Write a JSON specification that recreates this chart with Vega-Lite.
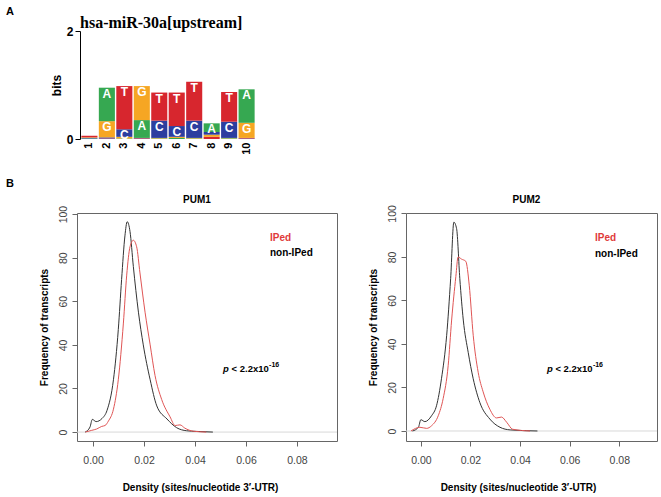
{
  "$schema": "https://vega.github.io/schema/vega-lite/v6.json",
  "background": "white",
  "padding": {"left": 6, "top": 6, "right": 4, "bottom": 4},
  "config": {
    "font": "Liberation Sans",
    "view": {"stroke": "#666666", "strokeWidth": 1},
    "axis": {"grid": false}
  },
  "datasets": {
    "logo": [
      {"pos": "1", "base": "A", "bits": 0.01, "rank": 1},
      {"pos": "1", "base": "C", "bits": 0.01, "rank": 2},
      {"pos": "1", "base": "G", "bits": 0.01, "rank": 3},
      {"pos": "1", "base": "T", "bits": 0.03, "rank": 4},
      {"pos": "2", "base": "T", "bits": 0.01, "rank": 1},
      {"pos": "2", "base": "C", "bits": 0.02, "rank": 2},
      {"pos": "2", "base": "G", "bits": 0.3, "rank": 3},
      {"pos": "2", "base": "A", "bits": 0.62, "rank": 4},
      {"pos": "3", "base": "A", "bits": 0.01, "rank": 1},
      {"pos": "3", "base": "G", "bits": 0.03, "rank": 2},
      {"pos": "3", "base": "C", "bits": 0.14, "rank": 3},
      {"pos": "3", "base": "T", "bits": 0.8, "rank": 4},
      {"pos": "4", "base": "C", "bits": 0.01, "rank": 1},
      {"pos": "4", "base": "T", "bits": 0.01, "rank": 2},
      {"pos": "4", "base": "A", "bits": 0.33, "rank": 3},
      {"pos": "4", "base": "G", "bits": 0.63, "rank": 4},
      {"pos": "5", "base": "A", "bits": 0.01, "rank": 1},
      {"pos": "5", "base": "G", "bits": 0.01, "rank": 2},
      {"pos": "5", "base": "C", "bits": 0.32, "rank": 3},
      {"pos": "5", "base": "T", "bits": 0.52, "rank": 4},
      {"pos": "6", "base": "A", "bits": 0.02, "rank": 1},
      {"pos": "6", "base": "G", "bits": 0.02, "rank": 2},
      {"pos": "6", "base": "C", "bits": 0.2, "rank": 3},
      {"pos": "6", "base": "T", "bits": 0.62, "rank": 4},
      {"pos": "7", "base": "A", "bits": 0.01, "rank": 1},
      {"pos": "7", "base": "G", "bits": 0.01, "rank": 2},
      {"pos": "7", "base": "C", "bits": 0.32, "rank": 3},
      {"pos": "7", "base": "T", "bits": 0.72, "rank": 4},
      {"pos": "8", "base": "T", "bits": 0.04, "rank": 1},
      {"pos": "8", "base": "G", "bits": 0.04, "rank": 2},
      {"pos": "8", "base": "C", "bits": 0.05, "rank": 3},
      {"pos": "8", "base": "A", "bits": 0.16, "rank": 4},
      {"pos": "9", "base": "G", "bits": 0.01, "rank": 1},
      {"pos": "9", "base": "A", "bits": 0.01, "rank": 2},
      {"pos": "9", "base": "C", "bits": 0.3, "rank": 3},
      {"pos": "9", "base": "T", "bits": 0.55, "rank": 4},
      {"pos": "10", "base": "C", "bits": 0.01, "rank": 1},
      {"pos": "10", "base": "T", "bits": 0.01, "rank": 2},
      {"pos": "10", "base": "G", "bits": 0.28, "rank": 3},
      {"pos": "10", "base": "A", "bits": 0.62, "rank": 4}
    ],
    "curves": [
      {"panel": "PUM1", "group": "non-IPed", "x": -0.0031, "y": 0},
      {"panel": "PUM1", "group": "non-IPed", "x": -0.0012, "y": 2.3},
      {"panel": "PUM1", "group": "non-IPed", "x": -0.0003, "y": 5.8},
      {"panel": "PUM1", "group": "non-IPed", "x": 0.0012, "y": 4.8},
      {"panel": "PUM1", "group": "non-IPed", "x": 0.0035, "y": 6.2},
      {"panel": "PUM1", "group": "non-IPed", "x": 0.0055, "y": 10},
      {"panel": "PUM1", "group": "non-IPed", "x": 0.008, "y": 24},
      {"panel": "PUM1", "group": "non-IPed", "x": 0.0099, "y": 47},
      {"panel": "PUM1", "group": "non-IPed", "x": 0.0112, "y": 70},
      {"panel": "PUM1", "group": "non-IPed", "x": 0.0125, "y": 90},
      {"panel": "PUM1", "group": "non-IPed", "x": 0.0134, "y": 96.5},
      {"panel": "PUM1", "group": "non-IPed", "x": 0.0145, "y": 92},
      {"panel": "PUM1", "group": "non-IPed", "x": 0.0158, "y": 76},
      {"panel": "PUM1", "group": "non-IPed", "x": 0.0178, "y": 55},
      {"panel": "PUM1", "group": "non-IPed", "x": 0.0197, "y": 40},
      {"panel": "PUM1", "group": "non-IPed", "x": 0.0224, "y": 24},
      {"panel": "PUM1", "group": "non-IPed", "x": 0.025, "y": 12},
      {"panel": "PUM1", "group": "non-IPed", "x": 0.029, "y": 6},
      {"panel": "PUM1", "group": "non-IPed", "x": 0.0328, "y": 2},
      {"panel": "PUM1", "group": "non-IPed", "x": 0.0367, "y": 0.6},
      {"panel": "PUM1", "group": "non-IPed", "x": 0.0406, "y": 0.3},
      {"panel": "PUM1", "group": "non-IPed", "x": 0.047, "y": 0},
      {"panel": "PUM1", "group": "IPed", "x": -0.003, "y": 0},
      {"panel": "PUM1", "group": "IPed", "x": -0.0005, "y": 0.8},
      {"panel": "PUM1", "group": "IPed", "x": 0.0014, "y": 1.4},
      {"panel": "PUM1", "group": "IPed", "x": 0.0034, "y": 2.6},
      {"panel": "PUM1", "group": "IPed", "x": 0.0047, "y": 3},
      {"panel": "PUM1", "group": "IPed", "x": 0.006, "y": 5},
      {"panel": "PUM1", "group": "IPed", "x": 0.008, "y": 10.5},
      {"panel": "PUM1", "group": "IPed", "x": 0.0099, "y": 24},
      {"panel": "PUM1", "group": "IPed", "x": 0.0119, "y": 50},
      {"panel": "PUM1", "group": "IPed", "x": 0.0132, "y": 72},
      {"panel": "PUM1", "group": "IPed", "x": 0.0145, "y": 85},
      {"panel": "PUM1", "group": "IPed", "x": 0.0158, "y": 88},
      {"panel": "PUM1", "group": "IPed", "x": 0.0171, "y": 85},
      {"panel": "PUM1", "group": "IPed", "x": 0.0184, "y": 73},
      {"panel": "PUM1", "group": "IPed", "x": 0.0204, "y": 55},
      {"panel": "PUM1", "group": "IPed", "x": 0.0224, "y": 40},
      {"panel": "PUM1", "group": "IPed", "x": 0.0243, "y": 26},
      {"panel": "PUM1", "group": "IPed", "x": 0.0269, "y": 15},
      {"panel": "PUM1", "group": "IPed", "x": 0.0302, "y": 7},
      {"panel": "PUM1", "group": "IPed", "x": 0.0322, "y": 3},
      {"panel": "PUM1", "group": "IPed", "x": 0.0341, "y": 3.3},
      {"panel": "PUM1", "group": "IPed", "x": 0.036, "y": 1.8},
      {"panel": "PUM1", "group": "IPed", "x": 0.0393, "y": 0.4},
      {"panel": "PUM1", "group": "IPed", "x": 0.0444, "y": 0},
      {"panel": "PUM2", "group": "non-IPed", "x": -0.0034, "y": 0},
      {"panel": "PUM2", "group": "non-IPed", "x": -0.001, "y": 1.7},
      {"panel": "PUM2", "group": "non-IPed", "x": 0.0, "y": 5.2},
      {"panel": "PUM2", "group": "non-IPed", "x": 0.0016, "y": 4.3},
      {"panel": "PUM2", "group": "non-IPed", "x": 0.0043, "y": 7},
      {"panel": "PUM2", "group": "non-IPed", "x": 0.0063, "y": 11.6},
      {"panel": "PUM2", "group": "non-IPed", "x": 0.0083, "y": 24},
      {"panel": "PUM2", "group": "non-IPed", "x": 0.0104, "y": 44},
      {"panel": "PUM2", "group": "non-IPed", "x": 0.012, "y": 70},
      {"panel": "PUM2", "group": "non-IPed", "x": 0.0133, "y": 96},
      {"panel": "PUM2", "group": "non-IPed", "x": 0.0144, "y": 93},
      {"panel": "PUM2", "group": "non-IPed", "x": 0.0157, "y": 70},
      {"panel": "PUM2", "group": "non-IPed", "x": 0.0171, "y": 51},
      {"panel": "PUM2", "group": "non-IPed", "x": 0.0191, "y": 36},
      {"panel": "PUM2", "group": "non-IPed", "x": 0.0211, "y": 24},
      {"panel": "PUM2", "group": "non-IPed", "x": 0.0238, "y": 13},
      {"panel": "PUM2", "group": "non-IPed", "x": 0.0278, "y": 5.5},
      {"panel": "PUM2", "group": "non-IPed", "x": 0.0319, "y": 1.7},
      {"panel": "PUM2", "group": "non-IPed", "x": 0.036, "y": 0.5},
      {"panel": "PUM2", "group": "non-IPed", "x": 0.047, "y": 0},
      {"panel": "PUM2", "group": "IPed", "x": -0.004, "y": 0},
      {"panel": "PUM2", "group": "IPed", "x": -0.0004, "y": 1.7},
      {"panel": "PUM2", "group": "IPed", "x": 0.0023, "y": 1.2},
      {"panel": "PUM2", "group": "IPed", "x": 0.0043, "y": 2.4},
      {"panel": "PUM2", "group": "IPed", "x": 0.007, "y": 7},
      {"panel": "PUM2", "group": "IPed", "x": 0.009, "y": 15},
      {"panel": "PUM2", "group": "IPed", "x": 0.011, "y": 30},
      {"panel": "PUM2", "group": "IPed", "x": 0.0124, "y": 51},
      {"panel": "PUM2", "group": "IPed", "x": 0.0141, "y": 71},
      {"panel": "PUM2", "group": "IPed", "x": 0.015, "y": 80},
      {"panel": "PUM2", "group": "IPed", "x": 0.0164, "y": 79},
      {"panel": "PUM2", "group": "IPed", "x": 0.0181, "y": 78},
      {"panel": "PUM2", "group": "IPed", "x": 0.0195, "y": 67},
      {"panel": "PUM2", "group": "IPed", "x": 0.0211, "y": 44},
      {"panel": "PUM2", "group": "IPed", "x": 0.0231, "y": 27},
      {"panel": "PUM2", "group": "IPed", "x": 0.0251, "y": 18},
      {"panel": "PUM2", "group": "IPed", "x": 0.0278, "y": 10},
      {"panel": "PUM2", "group": "IPed", "x": 0.0305, "y": 6},
      {"panel": "PUM2", "group": "IPed", "x": 0.0325, "y": 6.4},
      {"panel": "PUM2", "group": "IPed", "x": 0.0346, "y": 4},
      {"panel": "PUM2", "group": "IPed", "x": 0.037, "y": 0.8},
      {"panel": "PUM2", "group": "IPed", "x": 0.044, "y": 0}
    ]
  },
  "title": {"text": "A", "anchor": "start", "frame": "group", "dx": -71, "offset": -2, "fontSize": 11, "fontWeight": "bold", "color": "black"},
  "spacing": 74,
  "bounds": "flush",
  "resolve": {"scale": {"color": "independent"}},
  "vconcat": [
    {
      "data": {"name": "logo"},
      "width": 182,
      "height": 108,
      "view": {"stroke": null},
      "title": {"text": "hsa-miR-30a[upstream]", "anchor": "start", "frame": "group", "dx": 3, "offset": -6, "font": "Liberation Serif", "fontSize": 16, "fontWeight": "bold", "color": "black"},
      "transform": [
        {"stack": "bits", "groupby": ["pos"], "sort": [{"field": "rank", "order": "ascending"}], "as": ["b0", "b1"]}
      ],
      "encoding": {
        "x": {
          "field": "pos", "type": "ordinal",
          "sort": ["1", "2", "3", "4", "5", "6", "7", "8", "9", "10"],
          "scale": {"paddingInner": 0.08, "paddingOuter": 0.25},
          "axis": {"title": null, "domain": false, "ticks": false, "labelAngle": 270, "labelFontSize": 11, "labelFontWeight": "bold", "labelColor": "black", "labelPadding": 3}
        }
      },
      "layer": [
        {
          "mark": {"type": "bar"},
          "encoding": {
            "y": {"field": "b0", "type": "quantitative", "scale": {"domain": [0, 2], "nice": false},
              "axis": {"values": [0, 1, 2], "format": "d", "title": "bits", "offset": -3, "domainColor": "black", "tickColor": "black", "tickSize": 5, "labelFontSize": 12, "labelFontWeight": "bold", "labelColor": "black", "labelPadding": 2, "titleFontSize": 12, "titleFontWeight": "bold", "titleColor": "black", "titlePadding": 3}},
            "y2": {"field": "b1"},
            "color": {"field": "base", "type": "nominal", "scale": {"domain": ["A", "C", "G", "T"], "range": ["#36A851", "#2C3E9F", "#F6A623", "#D7262E"]}, "legend": null}
          }
        },
        {
          "transform": [{"filter": "datum.bits >= 0.14"}],
          "mark": {"type": "text", "color": "white", "fontWeight": "bold", "fontSize": 12, "baseline": "top", "dy": 1},
          "encoding": {
            "y": {"field": "b1", "type": "quantitative"},
            "text": {"field": "base"}
          }
        }
      ]
    },
    {
      "title": {"text": "B", "anchor": "start", "frame": "group", "dx": -71, "offset": 5, "fontSize": 11, "fontWeight": "bold", "color": "black"},
      "spacing": 69,
      "bounds": "flush",
      "hconcat": [
        {
          "width": 260,
          "height": 228,
          "title": {"text": "PUM1", "fontSize": 10, "fontWeight": "bold", "offset": 0, "dx": -10, "color": "black"},
          "layer": [
            {
              "data": {"values": [{}]},
              "mark": {"type": "rule", "color": "#d9d9d9", "strokeWidth": 1},
              "encoding": {"y": {"datum": 0, "type": "quantitative"}}
            },
            {
              "data": {"name": "curves"},
              "transform": [{"filter": "datum.panel === 'PUM1'"}],
              "mark": {"type": "line", "strokeWidth": 1, "interpolate": "monotone"},
              "encoding": {
                "x": {"field": "x", "type": "quantitative", "scale": {"domain": [-0.0063, 0.0957], "nice": false, "zero": false},
                  "axis": {"values": [0, 0.02, 0.04, 0.06, 0.08], "format": ".2f", "domain": false, "tickSize": 5, "tickColor": "#666666", "labelColor": "#444444", "labelFontSize": 10.5, "labelPadding": 9, "title": "Density (sites/nucleotide 3′-UTR)", "titleFontSize": 10, "titleFontWeight": "bold", "titleColor": "black", "titlePadding": 17, "titleAnchor": "middle", "titleX": 123}},
                "y": {"field": "y", "type": "quantitative", "scale": {"domain": [-4.1, 100.5], "nice": false, "zero": false},
                  "axis": {"values": [0, 20, 40, 60, 80, 100], "domain": false, "tickSize": 5, "tickColor": "#666666", "labelColor": "#444444", "labelFontSize": 10.5, "labelAngle": 270, "labelPadding": 4, "title": "Frequency of transcripts", "titleFontSize": 10, "titleFontWeight": "bold", "titleColor": "black", "titlePadding": 9}},
                "color": {"field": "group", "type": "nominal", "scale": {"domain": ["non-IPed", "IPed"], "range": ["#333333", "#E05555"]}, "legend": null}
              }
            },
            {
              "data": {"values": [{}]},
              "mark": {"type": "text", "text": "IPed", "color": "#E03A3A", "fontWeight": "bold", "fontSize": 10, "align": "left", "baseline": "middle"},
              "encoding": {"x": {"datum": 0.0694}, "y": {"datum": 89}}
            },
            {
              "data": {"values": [{}]},
              "mark": {"type": "text", "text": "non-IPed", "color": "black", "fontWeight": "bold", "fontSize": 10, "align": "left", "baseline": "middle"},
              "encoding": {"x": {"datum": 0.0694}, "y": {"datum": 82}}
            },
            {
              "data": {"values": [{}]},
              "mark": {"type": "text", "text": "p", "color": "black", "fontWeight": "bold", "fontStyle": "italic", "fontSize": 9.5, "align": "left", "baseline": "middle"},
              "encoding": {"x": {"datum": 0.051}, "y": {"datum": 29}}
            },
            {
              "data": {"values": [{}]},
              "mark": {"type": "text", "text": "< 2.2x10", "color": "black", "fontWeight": "bold", "fontSize": 9.5, "align": "left", "baseline": "middle", "dx": 8.5},
              "encoding": {"x": {"datum": 0.051}, "y": {"datum": 29}}
            },
            {
              "data": {"values": [{}]},
              "mark": {"type": "text", "text": "-16", "color": "black", "fontWeight": "bold", "fontSize": 7, "align": "left", "baseline": "middle", "dx": 46, "dy": -4},
              "encoding": {"x": {"datum": 0.051}, "y": {"datum": 29}}
            }
          ]
        },
        {
          "width": 251,
          "height": 228,
          "title": {"text": "PUM2", "fontSize": 10, "fontWeight": "bold", "offset": 0, "dx": -5, "color": "black"},
          "layer": [
            {
              "data": {"values": [{}]},
              "mark": {"type": "rule", "color": "#d9d9d9", "strokeWidth": 1},
              "encoding": {"y": {"datum": 0, "type": "quantitative"}}
            },
            {
              "data": {"name": "curves"},
              "transform": [{"filter": "datum.panel === 'PUM2'"}],
              "mark": {"type": "line", "strokeWidth": 1, "interpolate": "monotone"},
              "encoding": {
                "x": {"field": "x", "type": "quantitative", "scale": {"domain": [-0.006, 0.0952], "nice": false, "zero": false},
                  "axis": {"values": [0, 0.02, 0.04, 0.06, 0.08], "format": ".2f", "domain": false, "tickSize": 5, "tickColor": "#666666", "labelColor": "#444444", "labelFontSize": 10.5, "labelPadding": 9, "title": "Density (sites/nucleotide 3′-UTR)", "titleFontSize": 10, "titleFontWeight": "bold", "titleColor": "black", "titlePadding": 17, "titleAnchor": "middle", "titleX": 112}},
                "y": {"field": "y", "type": "quantitative", "scale": {"domain": [-4.6, 100.2], "nice": false, "zero": false},
                  "axis": {"values": [0, 20, 40, 60, 80, 100], "domain": false, "tickSize": 5, "tickColor": "#666666", "labelColor": "#444444", "labelFontSize": 10.5, "labelAngle": 270, "labelPadding": 4, "title": "Frequency of transcripts", "titleFontSize": 10, "titleFontWeight": "bold", "titleColor": "black", "titlePadding": 9}},
                "color": {"field": "group", "type": "nominal", "scale": {"domain": ["non-IPed", "IPed"], "range": ["#333333", "#E05555"]}, "legend": null}
              }
            },
            {
              "data": {"values": [{}]},
              "mark": {"type": "text", "text": "IPed", "color": "#E03A3A", "fontWeight": "bold", "fontSize": 10, "align": "left", "baseline": "middle"},
              "encoding": {"x": {"datum": 0.0702}, "y": {"datum": 88.5}}
            },
            {
              "data": {"values": [{}]},
              "mark": {"type": "text", "text": "non-IPed", "color": "black", "fontWeight": "bold", "fontSize": 10, "align": "left", "baseline": "middle"},
              "encoding": {"x": {"datum": 0.0702}, "y": {"datum": 81.5}}
            },
            {
              "data": {"values": [{}]},
              "mark": {"type": "text", "text": "p", "color": "black", "fontWeight": "bold", "fontStyle": "italic", "fontSize": 9.5, "align": "left", "baseline": "middle"},
              "encoding": {"x": {"datum": 0.0508}, "y": {"datum": 28.5}}
            },
            {
              "data": {"values": [{}]},
              "mark": {"type": "text", "text": "< 2.2x10", "color": "black", "fontWeight": "bold", "fontSize": 9.5, "align": "left", "baseline": "middle", "dx": 8.5},
              "encoding": {"x": {"datum": 0.0508}, "y": {"datum": 28.5}}
            },
            {
              "data": {"values": [{}]},
              "mark": {"type": "text", "text": "-16", "color": "black", "fontWeight": "bold", "fontSize": 7, "align": "left", "baseline": "middle", "dx": 46, "dy": -4},
              "encoding": {"x": {"datum": 0.0508}, "y": {"datum": 28.5}}
            }
          ]
        }
      ]
    }
  ]
}
